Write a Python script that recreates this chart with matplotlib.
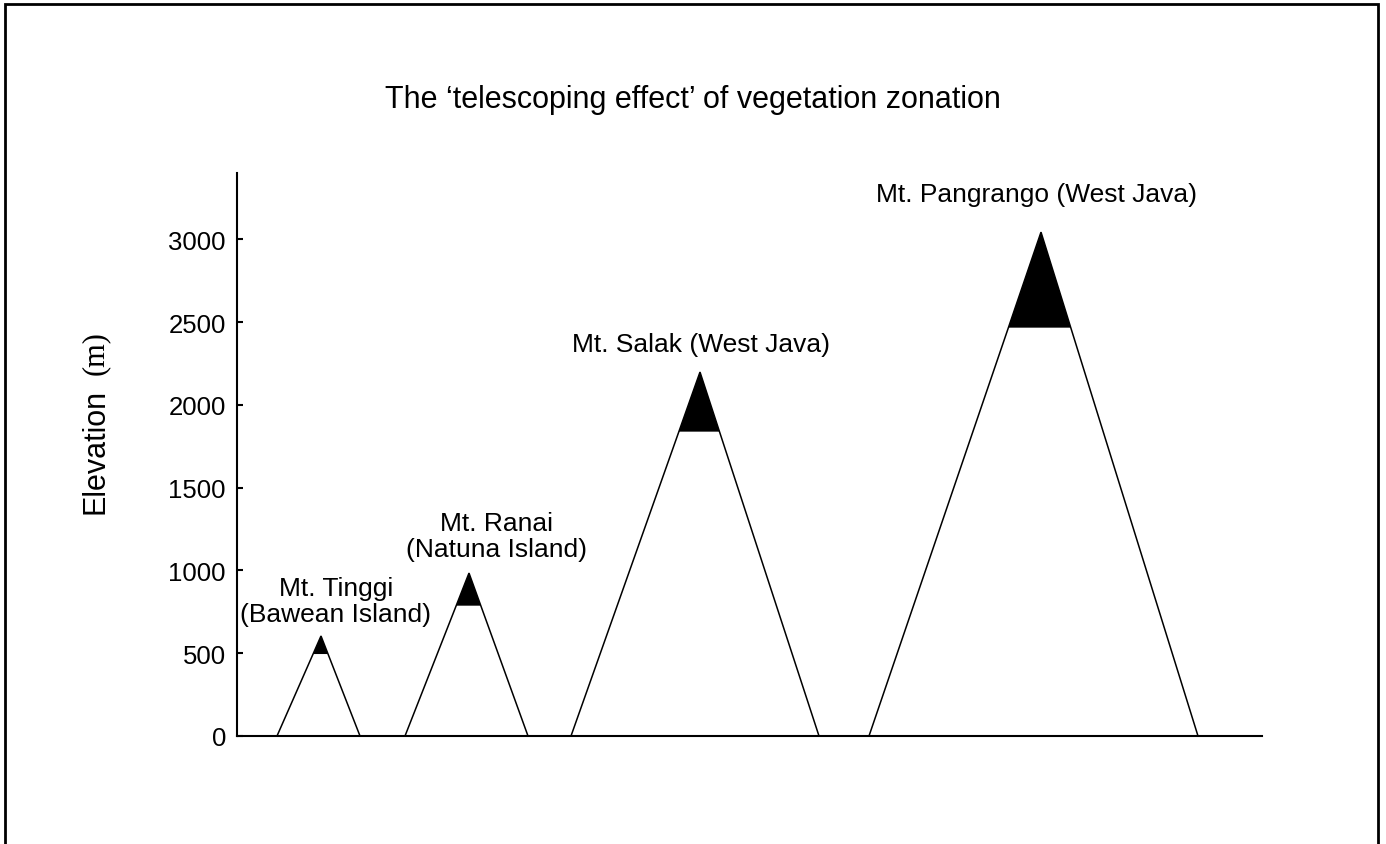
import matplotlib
matplotlib.use('Agg')
import matplotlib.pyplot as plt
import matplotlib.patches as mpatches

plt.rcParams['font.family'] = ['Liberation Sans', 'DejaVu Sans']

# mountain data (x in arbitrary horizontal units, elevation in m)
names = ['Mt. Tinggi\n(Bawean Island)', 'Mt. Ranai\n(Natuna Island)',
         'Mt. Salak (West Java)', 'Mt. Pangrango (West Java)']
base_left = [40, 168, 334, 632]
peak_x = [84, 232, 463, 804]
base_right = [123, 291, 582, 961]
summit = [604, 984, 2198, 3043]
zone_bottom = [495, 787, 1838, 2466]
label_x = [99, 260, 464, 800]
label_y = [815, 1207, 2366, 3272]
yticks = [0, 500, 1000, 1500, 2000, 2500, 3000]

fig = plt.figure(figsize=(13.86, 8.45), dpi=100)
ax = fig.add_axes([237/1386, 1-737/845, 1025/1386, 563/845])
ax.set_xlim(0, 1025)
ax.set_ylim(0, 3400)

for i in range(len(names)):
    xl, xp, xr, h, z = base_left[i], peak_x[i], base_right[i], summit[i], zone_bottom[i]
    # outline
    ax.plot([xl, xp, xr], [0, h, 0], color='black', lw=1.1, solid_joinstyle='miter')
    # black summit zone
    f = z / h
    zl = xl + (xp - xl) * f
    zr = xr + (xp - xr) * f
    ax.fill([zl, xp, zr], [z, h, z], color='black', lw=0)
    ax.text(label_x[i], label_y[i], names[i], ha='center', va='center',
            fontsize=19, linespacing=1.1)

ax.spines['top'].set_visible(False)
ax.spines['right'].set_visible(False)
ax.spines['left'].set_linewidth(1.5)
ax.spines['bottom'].set_linewidth(1.5)
ax.set_xticks([])
ax.set_yticks(yticks)
ax.tick_params(axis='y', direction='in', length=4, width=1.5, labelsize=18.5, pad=8)

fig.text(693/1386, 1-100/845, 'The \u2018telescoping effect\u2019 of vegetation zonation',
         ha='center', va='center', fontsize=22)
fig.text(95/1386, 1-451/845, 'Elevation', rotation=90, ha='center', va='center', fontsize=22)
fig.text(95/1386, 1-353/845, '(m)', rotation=90, ha='center', va='center', fontsize=22,
         family=['Liberation Serif', 'DejaVu Serif'])

frame = mpatches.Rectangle((5/1386, -0.05), 1373/1386, 1.05 - 5/845, transform=fig.transFigure,
                           fill=False, edgecolor='black', lw=2)
fig.add_artist(frame)

fig.savefig('out.png', dpi=100, facecolor='white')
